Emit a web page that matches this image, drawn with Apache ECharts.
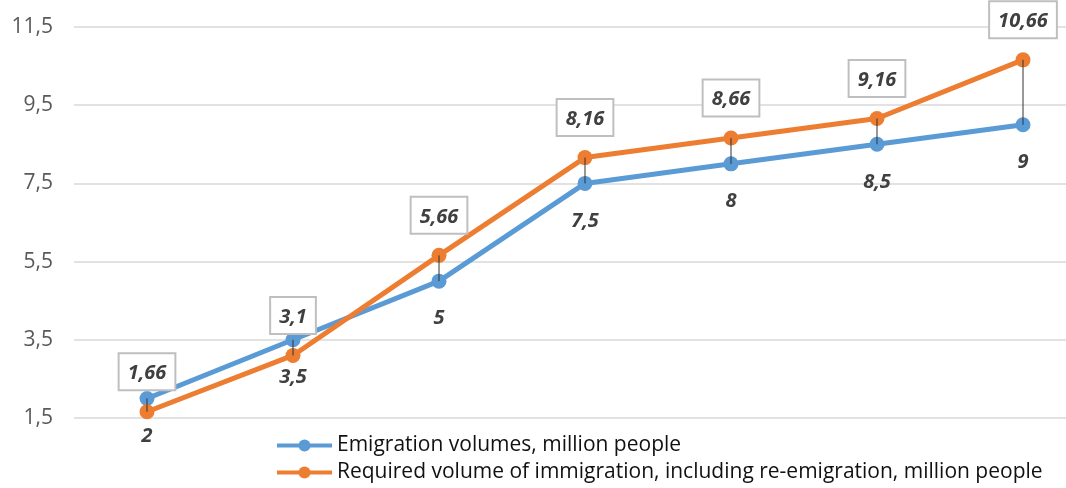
<!DOCTYPE html>
<html>
<head>
<meta charset="utf-8">
<script src="https://cdn.jsdelivr.net/npm/echarts@6/dist/echarts.min.js"></script>
<style>
  html, body { margin: 0; padding: 0; background: #fff; }
  #chart { width: 1066px; height: 488px; }
</style>
</head>
<body>
<div id="chart"></div>
<script>
// data
const categories = ["1", "2", "3", "4", "5", "6", "7"];
const emigration = [2, 3.5, 5, 7.5, 8, 8.5, 9];
const required = [1.66, 3.1, 5.66, 8.16, 8.66, 9.16, 10.66];
const yTicks = [1.5, 3.5, 5.5, 7.5, 9.5, 11.5];

const seriesNames = [
  "Emigration volumes, million people",
  "Required volume of immigration, including re-emigration, million people",
];

const comma = (v) => String(v).replace(".", ",");

var myChart = echarts.init(document.getElementById("chart"), null, { renderer: "canvas" });

var option = {
  backgroundColor: "#fff",
  animation: false,
  // plot runs past the right edge, like the cropped original
  grid: { left: 74, width: 1022, top: 27, height: 391, outerBoundsMode: "none" },
  legend: {
    orient: "vertical",
    left: 270,
    top: 430,
    height: 80,
    itemWidth: 55,
    itemHeight: 15,
    itemGap: 6,
    lineStyle: { width: 4 },
    textStyle: { fontFamily: "Open Sans, sans-serif", fontSize: 21, color: "#111" },
    data: seriesNames,
  },
  xAxis: {
    type: "category",
    data: categories,
    boundaryGap: true,
    axisLine: { show: false },
    axisTick: { show: false },
    axisLabel: { show: false },
  },
  yAxis: {
    type: "value",
    min: yTicks[0],
    max: yTicks[yTicks.length - 1],
    interval: 2,
    axisLine: { show: false },
    axisTick: { show: false },
    splitLine: { lineStyle: { color: "#d9d9d9", width: 1.5 } },
    axisLabel: {
      margin: 21,
      color: "#595959",
      fontFamily: "Open Sans, sans-serif",
      fontSize: 21,
      formatter: (v) => comma(v),
    },
  },
  series: [
    {
      name: seriesNames[0],
      type: "line",
      data: emigration,
      symbol: "circle",
      symbolSize: 15,
      color: "#5b9bd5",
      lineStyle: { width: 5, color: "#5b9bd5" },
      z: 3,
      label: {
        show: true,
        position: "bottom",
        distance: 20,
        formatter: (p) => comma(p.value),
        fontFamily: "Open Sans, sans-serif",
        fontStyle: "italic",
        fontWeight: "bold",
        fontSize: 20,
        color: "#404040",
      },
    },
    {
      name: seriesNames[1],
      type: "line",
      data: required,
      symbol: "circle",
      symbolSize: 15,
      color: "#ed7d31",
      lineStyle: { width: 5, color: "#ed7d31" },
      z: 4,
      label: {
        show: true,
        position: "top",
        distance: 15,
        formatter: (p) => comma(p.value),
        fontFamily: "Open Sans, sans-serif",
        fontStyle: "italic",
        fontWeight: "bold",
        fontSize: 20,
        color: "#404040",
        backgroundColor: "#fff",
        borderColor: "#bfbfbf",
        borderWidth: 2,
        padding: [9, 8, 6, 8],
      },
    },
    {
      // high-low lines between the two series
      type: "custom",
      z: 5,
      silent: true,
      data: categories.map((c, i) => [i, emigration[i], required[i]]),
      renderItem: function (params, api) {
        var a = api.coord([api.value(0), api.value(1)]);
        var b = api.coord([api.value(0), api.value(2)]);
        return {
          type: "line",
          shape: { x1: a[0], y1: a[1], x2: b[0], y2: b[1] },
          style: { stroke: "#333", lineWidth: 1 },
        };
      },
    },
  ],
};

myChart.setOption(option);
</script>
</body>
</html>
